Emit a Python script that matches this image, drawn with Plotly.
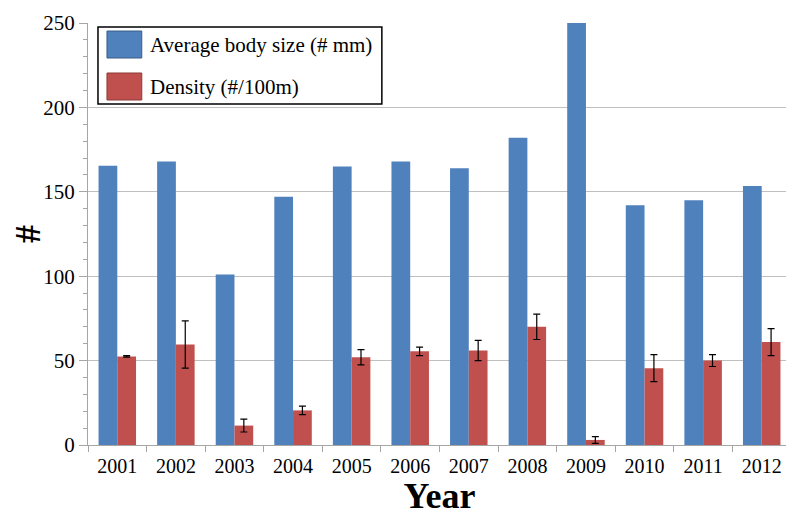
import plotly.graph_objects as go

years = ["2001", "2002", "2003", "2004", "2005", "2006",
         "2007", "2008", "2009", "2010", "2011", "2012"]
body_size = [165.5, 168, 101, 147, 165, 168, 164, 182, 250, 142, 145, 153.5]
density = [52.5, 59.5, 11.5, 20.5, 52, 55.5, 56, 70, 3, 45.5, 50, 61]
density_err = [0.4, 14, 3.8, 2.5, 4.5, 2.5, 6, 7.5, 2, 8, 3.5, 8]

series_names = ["Average body size (# mm)", "Density (#/100m)"]
colors = ["#4F81BD", "#C0504D"]
y_ticks = [0, 50, 100, 150, 200, 250]

FONT = "Liberation Serif, Times New Roman, Tinos, serif"

fig = go.Figure()
fig.add_trace(go.Bar(x=years, y=body_size, name=series_names[0],
                     marker=dict(color=colors[0], line=dict(width=0))))
fig.add_trace(go.Bar(x=years, y=density, name=series_names[1],
                     marker=dict(color=colors[1], line=dict(width=0)),
                     error_y=dict(type="data", array=density_err, visible=True,
                                  color="black", thickness=1.2, width=3.5)))

# Legend drawn as a boxed key (Excel style) in plot-paper coordinates
shapes = [
    dict(type="rect", xref="paper", yref="paper", x0=0.0142, x1=0.418,
         y0=0.808, y1=0.9905, line=dict(color="black", width=1.5),
         fillcolor="white", layer="above"),
    dict(type="rect", xref="paper", yref="paper", x0=0.027, x1=0.0765,
         y0=0.917, y1=0.981, line=dict(color="#385D8A", width=1),
         fillcolor=colors[0], layer="above"),
    dict(type="rect", xref="paper", yref="paper", x0=0.027, x1=0.0765,
         y0=0.8175, y1=0.8815, line=dict(color="#8C3836", width=1),
         fillcolor=colors[1], layer="above"),
]
annotations = [
    dict(xref="paper", yref="paper", x=0.085, y=0.949, text=series_names[0],
         showarrow=False, xanchor="left", yanchor="middle",
         font=dict(family=FONT, size=21, color="black")),
    dict(xref="paper", yref="paper", x=0.085, y=0.8495, text=series_names[1],
         showarrow=False, xanchor="left", yanchor="middle",
         font=dict(family=FONT, size=21, color="black")),
]

# page has an 8px body margin, so the figure is 8px smaller in each direction
fig.update_layout(
    width=786, height=508,
    margin=dict(l=80, r=3, t=15, b=71),
    barmode="group", bargap=0.36, bargroupgap=0,
    plot_bgcolor="white", paper_bgcolor="white",
    showlegend=False,
    shapes=shapes, annotations=annotations,
    font=dict(family=FONT, size=20, color="black"),
    xaxis=dict(
        type="category", automargin=False,
        showline=True, linecolor="#A6A6A6", linewidth=1,
        ticks="outside", tickson="boundaries", ticklen=6, tickcolor="#A6A6A6",
        ticklabelstandoff=3,
        tickfont=dict(family=FONT, size=20, color="black"),
        title=dict(text="<b>Year</b>", font=dict(family=FONT, size=36, color="black"),
                   standoff=3),
        showgrid=False,
    ),
    yaxis=dict(
        range=[0, 250], tickvals=y_ticks, automargin=False,
        showline=True, linecolor="#A6A6A6", linewidth=1,
        ticks="outside", ticklen=8, tickcolor="#A6A6A6",
        minor=dict(dtick=10, ticks="outside", ticklen=4, tickcolor="#A6A6A6", showgrid=False),
        showgrid=True, gridcolor="#C0C0C0", gridwidth=1,
        zeroline=False,
        tickfont=dict(family=FONT, size=21, color="black"),
        title=dict(text="<b>#</b>", font=dict(family=FONT, size=36, color="black"),
                   standoff=6),
    ),
)

fig.write_html("out.html")
